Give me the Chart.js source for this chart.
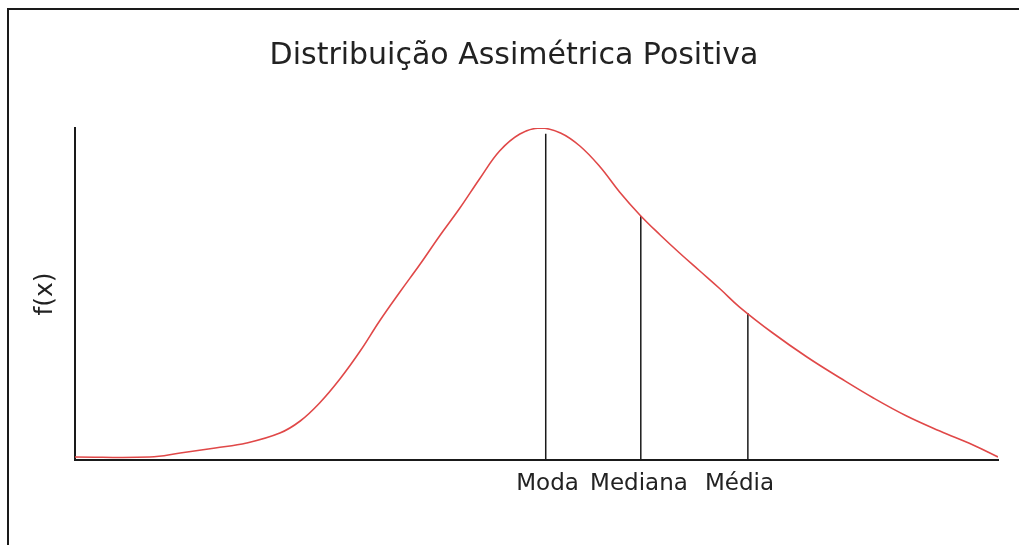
<!DOCTYPE html>
<html>
<head>
<meta charset="utf-8">
<script src="https://cdn.jsdelivr.net/npm/chart.js@4/dist/chart.umd.min.js"></script>
<style>
  html, body { margin: 0; padding: 0; background: #fff; overflow: hidden; }
  #wrap { position: relative; width: 1019px; height: 545px; }
  #frame { position: absolute; left: 7px; top: 8px; width: 1100px; height: 600px;
           border-left: 2px solid #1a1a1a; border-top: 2px solid #1a1a1a; box-sizing: border-box; }
  canvas { position: absolute; left: 0; top: 0; }
</style>
</head>
<body>
<div id="wrap">
  <div id="frame"></div>
  <canvas id="c" width="1019" height="545"></canvas>
</div>
<script>
// Curve: x positions and density values f(x)
const xValues = [0, 0.81, 1.14, 1.52, 1.86, 2.22, 2.44, 2.65, 2.87, 3.09, 3.30, 3.52, 3.74, 3.95,
                 4.17, 4.39, 4.60, 4.82, 5.04, 5.26, 5.47, 5.69, 5.90, 6.12, 6.34, 6.55, 6.77,
                 6.99, 7.20, 7.56, 7.93, 8.29, 8.65, 9.01, 9.37, 9.73, 10];
const fValues = [0.0036, 0.0036, 0.0084, 0.0145, 0.0205, 0.0325, 0.0470, 0.0687, 0.0976, 0.1313,
                 0.1675, 0.2024, 0.2361, 0.2699, 0.3036, 0.3398, 0.3723, 0.3928, 0.4000, 0.3940,
                 0.3783, 0.3530, 0.3229, 0.2952, 0.2711, 0.2494, 0.2277, 0.2060, 0.1843, 0.1530,
                 0.1241, 0.0988, 0.0747, 0.0530, 0.0349, 0.0181, 0.0036];

// Marker lines (mode, median, mean) and where their labels sit
const markerLabels = ['Moda', 'Mediana', 'Média'];
const markerX = [5.10, 6.13, 7.29];
const markerTop = [0.393, 0.294, 0.1771];
const labelX = [5.12, 6.11, 7.20];

const titleText = 'Distribuição Assimétrica Positiva';
const yTitle = 'f(x)';

const FONT = "'DejaVu Sans', Verdana, sans-serif";

const datasets = [{
  label: 'f(x)',
  data: xValues.map((x, i) => ({ x: x, y: fValues[i] })),
  showLine: true,
  borderColor: '#e04848',
  borderWidth: 1.6,
  pointRadius: 0,
  tension: 0.4,
  fill: false
}];
markerX.forEach((mx, i) => {
  datasets.push({
    label: markerLabels[i],
    data: [{ x: mx, y: 0 }, { x: mx, y: markerTop[i] }],
    showLine: true,
    borderColor: '#1a1a1a',
    borderWidth: 1.5,
    pointRadius: 0,
    tension: 0,
    fill: false
  });
});

new Chart(document.getElementById('c'), {
  type: 'scatter',
  data: { datasets: datasets },
  options: {
    responsive: false,
    animation: false,
    layout: { padding: { left: 30, right: 21, top: 0, bottom: 0 } },
    plugins: {
      legend: { display: false },
      tooltip: { enabled: false },
      title: {
        display: true,
        text: titleText,
        color: '#222',
        font: { family: FONT, size: 30, weight: 'normal' },
        padding: { top: 38, bottom: 54 }
      }
    },
    scales: {
      x: {
        type: 'linear',
        min: 0,
        max: 10,
        grid: { display: false, drawTicks: false },
        border: { display: true, color: '#1a1a1a', width: 2 },
        afterBuildTicks: (s) => { s.ticks = labelX.map(v => ({ value: v })); },
        afterFit: (s) => { s.height = 85; },
        ticks: {
          autoSkip: false,
          maxRotation: 0,
          padding: 10,
          color: '#222',
          font: { family: FONT, size: 23 },
          callback: (v, i) => markerLabels[i]
        }
      },
      y: {
        min: 0,
        max: 0.4,
        grid: { display: false, drawTicks: false },
        border: { display: true, color: '#1a1a1a', width: 2 },
        ticks: { display: false },
        afterFit: (s) => { s.width = 45; },
        title: {
          display: true,
          text: yTitle,
          color: '#222',
          font: { family: FONT, size: 25 },
          padding: { top: 0, bottom: 0 }
        }
      }
    }
  }
});
</script>
</body>
</html>
